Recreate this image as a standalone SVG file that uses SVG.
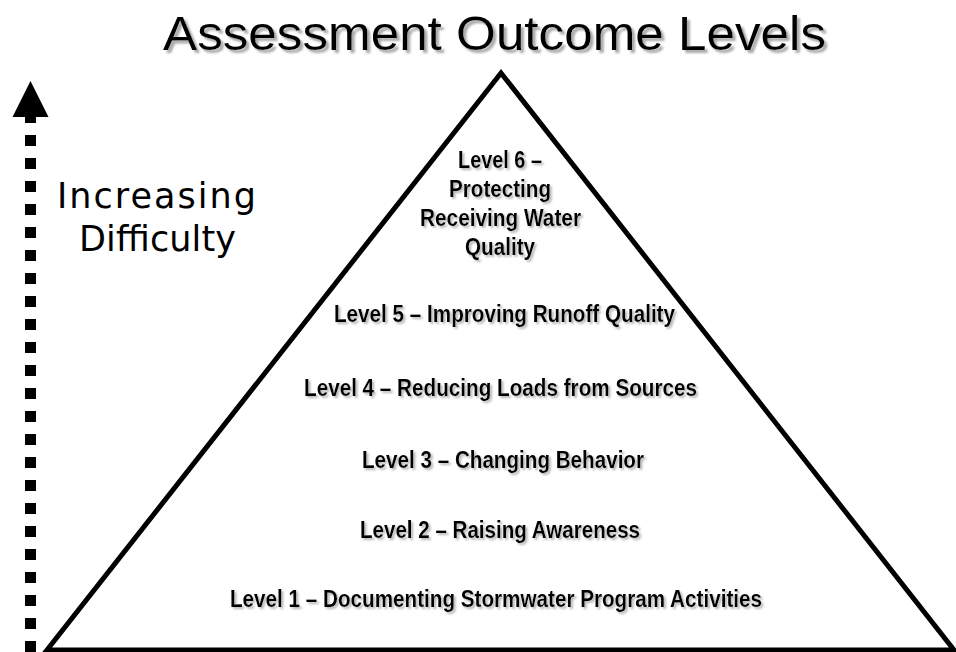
<svg xmlns="http://www.w3.org/2000/svg" width="956" height="652" viewBox="0 0 956 652">
  <defs>
    <filter id="shadow" x="-5%" y="-20%" width="110%" height="150%">
      <feDropShadow dx="2" dy="2" stdDeviation="0.8" flood-color="#a8a8a8" flood-opacity="0.85"/>
    </filter>
    <filter id="shadowBig" x="-5%" y="-20%" width="110%" height="150%">
      <feDropShadow dx="3" dy="3" stdDeviation="0.8" flood-color="#a0a0a0" flood-opacity="0.9"/>
    </filter>
  </defs>
  <style>
    .title { font-family: "Liberation Sans", Arial, sans-serif; font-size: 49px; fill: #000; }
    .side { font-family: "DejaVu Sans", Verdana, sans-serif; font-size: 35px; fill: #000; }
    .lvl { font-family: "Liberation Sans Narrow", "Arial Narrow", "Liberation Sans", Arial, sans-serif; font-weight: bold; font-size: 23px; fill: #000; }
    .pyr { fill: #ffffff; stroke: #000; stroke-width: 5; stroke-linejoin: miter; }
  </style>
  <rect width="956" height="652" fill="#ffffff"/>

  <g id="title" filter="url(#shadowBig)">
    <text class="title" x="163" y="50" textLength="663" lengthAdjust="spacingAndGlyphs">Assessment Outcome Levels</text>
  </g>

  <g id="pyramid">
    <polygon class="pyr" points="501,73 47,650 954,650"/>
  </g>

  <g id="connectors">
    <g id="difficulty-arrow">
      <line x1="30.5" y1="652" x2="30.5" y2="117" stroke="#000" stroke-width="11" stroke-dasharray="11 12"/>
      <polygon points="30.5,81 12.5,117 48.5,117" fill="#000"/>
    </g>
  </g>

  <g id="difficulty-label">
    <text class="side" x="57" y="208" textLength="199" lengthAdjust="spacing">Increasing</text>
    <text class="side" x="79" y="251" textLength="157" lengthAdjust="spacing">Difficulty</text>
  </g>

  <g id="level6" filter="url(#shadow)">
    <text class="lvl" x="458" y="168" textLength="84" lengthAdjust="spacingAndGlyphs">Level 6 –</text>
    <text class="lvl" x="449" y="197" textLength="102" lengthAdjust="spacingAndGlyphs">Protecting</text>
    <text class="lvl" x="420" y="226" textLength="161" lengthAdjust="spacingAndGlyphs">Receiving Water</text>
    <text class="lvl" x="465" y="255" textLength="70" lengthAdjust="spacingAndGlyphs">Quality</text>
  </g>

  <g id="level5" filter="url(#shadow)">
    <text class="lvl" x="334" y="322" textLength="341" lengthAdjust="spacingAndGlyphs">Level 5 – Improving Runoff Quality</text>
  </g>

  <g id="level4" filter="url(#shadow)">
    <text class="lvl" x="304" y="396" textLength="393" lengthAdjust="spacingAndGlyphs">Level 4 – Reducing Loads from Sources</text>
  </g>

  <g id="level3" filter="url(#shadow)">
    <text class="lvl" x="362" y="468" textLength="282" lengthAdjust="spacingAndGlyphs">Level 3 – Changing Behavior</text>
  </g>

  <g id="level2" filter="url(#shadow)">
    <text class="lvl" x="360" y="538" textLength="280" lengthAdjust="spacingAndGlyphs">Level 2 – Raising Awareness</text>
  </g>

  <g id="level1" filter="url(#shadow)">
    <text class="lvl" x="230" y="607" textLength="532" lengthAdjust="spacingAndGlyphs">Level 1 – Documenting Stormwater Program Activities</text>
  </g>
</svg>
